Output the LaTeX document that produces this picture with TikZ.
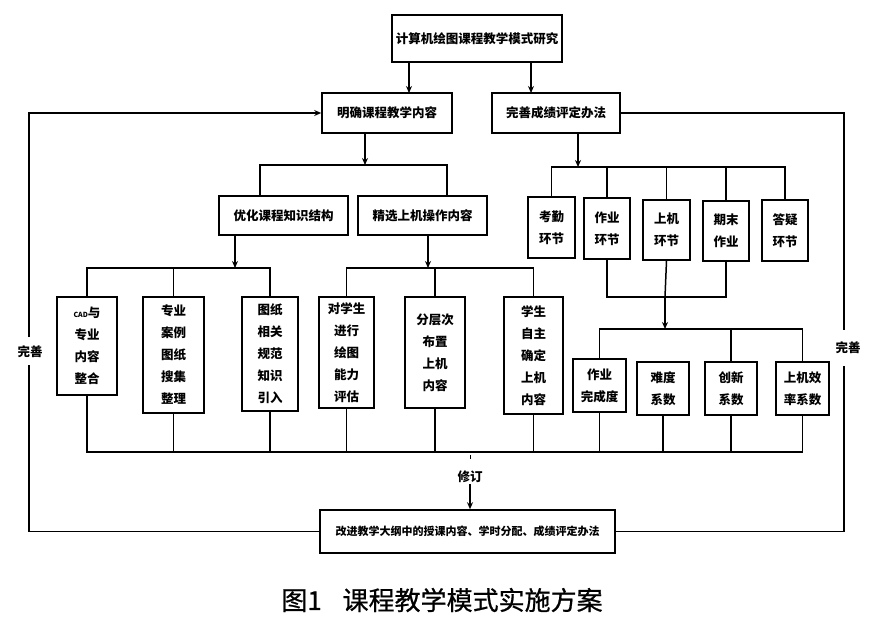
\documentclass[tikz,border=0pt]{standalone}
\usepackage{fontspec}
\newfontfamily\cjk{Noto Sans CJK SC}
\newfontfamily\capf[FakeBold=0.7]{Noto Sans CJK SC}
\usetikzlibrary{arrows.meta}
\begin{document}
\begin{tikzpicture}[x=1pt,y=-1pt,
  box/.style={draw, line width=1.6pt, inner sep=0pt, align=center,
    font=\cjk\bfseries\fontsize{12.5}{22}\selectfont},
  conn/.style={line width=1.5pt},
  arr/.style={line width=1.5pt, -{Stealth[length=7pt,width=6pt]}},
  lab/.style={inner sep=1pt, font=\cjk\bfseries\fontsize{12.5}{15}\selectfont}]
\useasboundingbox (0,0) rectangle (870,625);

% top level
\node[box, minimum width=170pt, minimum height=47pt] (top) at (477,38.5) {计算机绘图课程教学模式研究};
\node[box, minimum width=130pt, minimum height=40pt] (ming) at (387,113) {明确课程教学内容};
\node[box, minimum width=128pt, minimum height=40pt] (wan) at (556,113) {完善成绩评定办法};
\draw[arr] (409,62) -- (409,93);
\draw[arr] (531,62) -- (531,93);

% second level left
\node[box, minimum width=129pt, minimum height=39pt] (youhua) at (283.5,215.5) {优化课程知识结构};
\node[box, minimum width=129pt, minimum height=39pt] (jingxuan) at (422.5,215.5) {精选上机操作内容};
\coordinate (b1) at (365,165);
\draw[arr] (365,133) -- (b1);
\draw[conn] (260,196) |- (447,165) -- (447,196);

% second level right
\node[box, minimum width=47pt, minimum height=61pt] (kaoqin) at (551.5,227.5) {考勤\\环节};
\node[box, minimum width=46pt, minimum height=61pt] (zuoye) at (607,228.5) {作业\\环节};
\node[box, minimum width=47pt, minimum height=60pt] (shangji) at (666.5,230) {上机\\环节};
\node[box, minimum width=46pt, minimum height=60pt] (qimo) at (726,231) {期末\\作业};
\node[box, minimum width=46pt, minimum height=61pt] (dayi) at (785,230.5) {答疑\\环节};
\draw[arr] (578,133) -- (578,167);
\draw[conn] (kaoqin.north) |- (dayi.north |- 0,167) -- (dayi.north);
\foreach \n in {zuoye,shangji,qimo} \draw[conn] (\n.north) -- (\n.north |- 0,167);

% third level left
\node[box, minimum width=60pt, minimum height=98pt] (cad) at (87,346) {{\fontsize{7}{7}\selectfont CAD}与\\专业\\内容\\整合};
\node[box, minimum width=61pt, minimum height=116pt] (zhuanye) at (173.5,355) {专业\\案例\\图纸\\搜集\\整理};
\node[box, minimum width=56pt, minimum height=114pt] (tuzhi) at (270,354) {图纸\\相关\\规范\\知识\\引入};
\draw[arr] (235,235) -- (235,268);
\draw[conn] (cad.north) |- (tuzhi.north |- 0,268) -- (tuzhi.north);
\draw[conn] (zhuanye.north) -- (zhuanye.north |- 0,268);

\node[box, minimum width=55pt, minimum height=111pt] (duixue) at (346.5,352.5) {对学生\\进行\\绘图\\能力\\评估};
\node[box, minimum width=60pt, minimum height=111pt] (fenceng) at (435,352.5) {分层次\\布置\\上机\\内容};
\node[box, minimum width=59pt, minimum height=117pt] (zizhu) at (533.5,355.5) {学生\\自主\\确定\\上机\\内容};
\draw[arr] (428,235) -- (428,268);
\draw[conn] (duixue.north) |- (zizhu.north |- 0,268) -- (zizhu.north);
\draw[conn] (fenceng.north) -- (fenceng.north |- 0,268);

% evaluation
\node[box, minimum width=53pt, minimum height=53pt] (wancheng) at (599.5,385.5) {作业\\完成度};
\node[box, minimum width=52pt, minimum height=53pt] (nandu) at (663,388.5) {难度\\系数};
\node[box, minimum width=52pt, minimum height=53pt] (chuangxin) at (731,388.5) {创新\\系数};
\node[box, minimum width=53pt, minimum height=53pt] (xiaolv) at (802.5,388.5) {上机效\\率系数};
\coordinate (m1) at (665,297);
\draw[conn] (zuoye.south) |- (qimo.south |- m1) -- (qimo.south);
\draw[conn] (shangji.south) -- (m1);
\draw[arr] (m1) -- (665,329);
\draw[conn] (wancheng.north) |- (xiaolv.north |- 0,329) -- (xiaolv.north);
\draw[conn] (chuangxin.north) -- (chuangxin.north |- 0,329);

% bottom bus
\draw[conn] (cad.south) |- (xiaolv.south |- 0,452) -- (xiaolv.south);
\foreach \n in {zhuanye,tuzhi,duixue,fenceng,zizhu,wancheng,nandu,chuangxin}
  \draw[conn] (\n.south) -- (\n.south |- 0,452);

% revise
\node[box, minimum width=295pt, minimum height=43pt, font=\cjk\bfseries\fontsize{11}{13}\selectfont] (gaijin) at (467.5,531.5) {改进教学大纲中的授课内容、学时分配、成绩评定办法};
\node[lab] (xiuding) at (470,477) {修订};
\draw[line width=1pt] (470,455) -- (470,459);
\draw[arr] (xiuding.south) -- (xiuding.south |- gaijin.north);

% feedback loops
\node[lab, fill=white] (wsl) at (30,352) {完善};
\node[lab, fill=white] (wsr) at (848,348) {完善};
\draw[conn] (gaijin.west) -| (29,365);
\draw[arr] (29,337) |- (ming.west);
\draw[conn] (wan.east) -| (844,330);
\draw[conn] (844,366) |- (gaijin.east);

% caption
\node[font=\capf\fontsize{26}{30}\selectfont] (cap) at (442,600) {图1\hspace{0.8em}课程教学模式实施方案};
\end{tikzpicture}
\end{document}
